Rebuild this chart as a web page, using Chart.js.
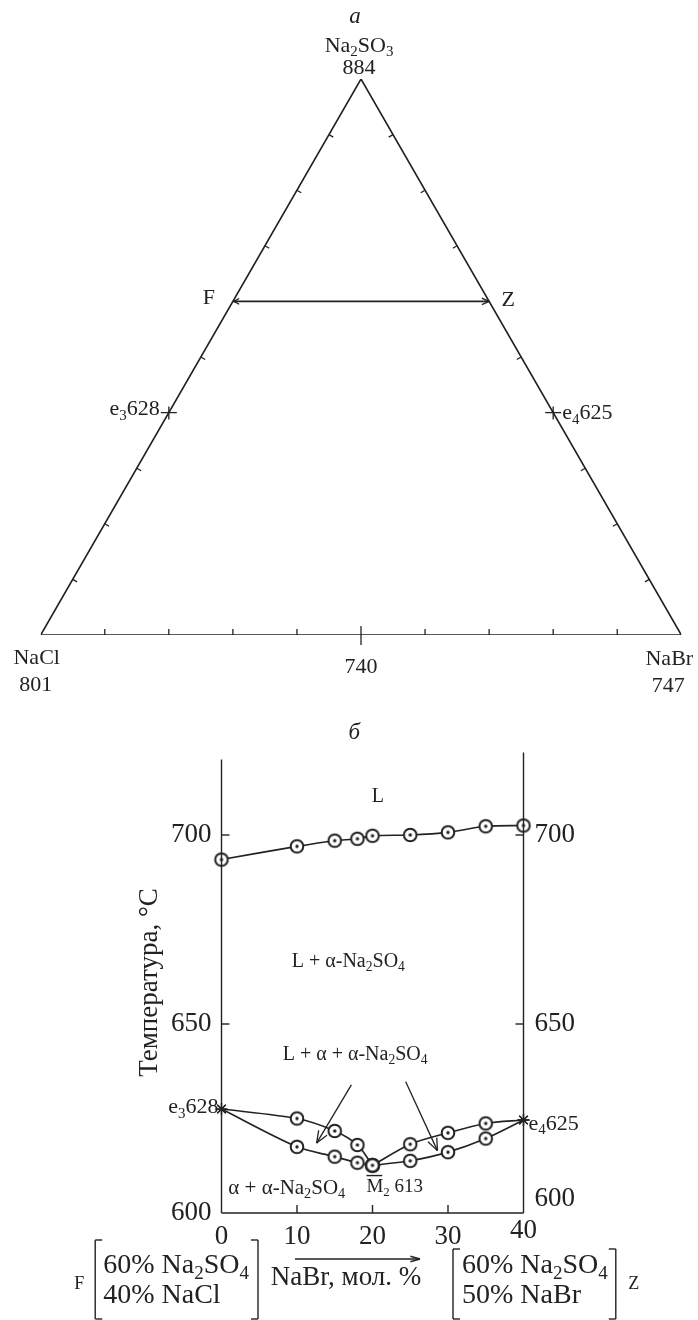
<!DOCTYPE html>
<html>
<head>
<meta charset="utf-8">
<script src="https://cdn.jsdelivr.net/npm/chart.js@4/dist/chart.umd.min.js"></script>
<style>
    html, body { margin: 0; padding: 0; background: #fff; }
    #wrap { position: relative; width: 698px; height: 1320px; }
    #triChart { position: absolute; left: 0; top: 0; }
    #txChart { position: absolute; left: 0; top: 700px; }
</style>
</head>
<body>
<div id="wrap">
    <canvas id="triChart" width="698" height="700"></canvas>
    <canvas id="txChart" width="698" height="620"></canvas>
</div>
<script>
// ---- (a) ternary system, compositions as [Na2SO4, NaCl, NaBr] ----
const CORNER_NAMES = ['Na_2SO_3', 'NaCl', 'NaBr'];
const CORNER_TEMPS = [884, 801, 747];
const SIDE_TICKS = [0.1, 0.2, 0.3, 0.4, 0.5, 0.6, 0.7, 0.8, 0.9];
const POINT_F = [0.6, 0.4, 0];
const POINT_Z = [0.6, 0, 0.4];
const POINT_E3 = [0.4, 0.6, 0];
const POINT_E4 = [0.4, 0, 0.6];
const POINT_MIN = [0, 0.5, 0.5];
const E3_TEMP = 628;
const E4_TEMP = 625;
const MIN_TEMP = 740;

// ---- (б) section F-Z ----
const LIQ_X = [0, 10, 15, 18, 20, 25, 30, 35, 40];
const LIQ_T = [693.5, 697, 698.5, 699, 699.8, 700, 700.7, 702.3, 702.5];
const LEFT_X = [0, 10, 15, 18, 20];
const LEFT_UPPER_T = [627.5, 625, 621.7, 618, 612.6];
const LEFT_LOWER_T = [627.5, 617.5, 614.9, 613.3, 612.6];
const RIGHT_X = [20, 25, 30, 35, 40];
const RIGHT_UPPER_T = [612.6, 618.2, 621.2, 623.7, 624.6];
const RIGHT_LOWER_T = [612.6, 613.8, 616.1, 619.7, 624.6];
const X_TICKS = [0, 10, 20, 30, 40];
const T_TICKS = [600, 650, 700];
const M2_TEMP = 613;

const INK = '#222';
const FONT = '"Liberation Serif", "DejaVu Serif", serif';
const H = Math.sqrt(3) / 2;

function tern(c) {
    return { x: c[2] + c[0] * 0.5, y: c[0] * H };
}

// text with "_2" style subscripts
function richText(ctx, str, x, y, size, align, italic) {
    const parts = str.split(/_(\d)/);
    const sub = size * 0.68;
    const style = italic ? 'italic ' : '';
    let w = 0;
    parts.forEach((p, i) => {
        ctx.font = style + (i % 2 ? sub : size) + 'px ' + FONT;
        w += ctx.measureText(p).width;
    });
    let cx = align === 'center' ? x - w / 2 : (align === 'right' ? x - w : x);
    ctx.textAlign = 'left';
    ctx.textBaseline = 'middle';
    ctx.fillStyle = INK;
    parts.forEach((p, i) => {
        ctx.font = style + (i % 2 ? sub : size) + 'px ' + FONT;
        ctx.fillText(p, cx, i % 2 ? y + size * 0.28 : y);
        cx += ctx.measureText(p).width;
    });
    return w;
}

function seg(ctx, x1, y1, x2, y2) {
    ctx.beginPath();
    ctx.moveTo(x1, y1);
    ctx.lineTo(x2, y2);
    ctx.stroke();
}

function arrowHead(ctx, x1, y1, x2, y2, len, spread) {
    const a = Math.atan2(y2 - y1, x2 - x1);
    seg(ctx, x2, y2, x2 - len * Math.cos(a - spread), y2 - len * Math.sin(a - spread));
    seg(ctx, x2, y2, x2 - len * Math.cos(a + spread), y2 - len * Math.sin(a + spread));
}

function bracket(ctx, x, top, bottom, dir) {
    seg(ctx, x + dir * 7, top, x, top);
    seg(ctx, x, top, x, bottom);
    seg(ctx, x, bottom, x + dir * 7, bottom);
}

// ---- chart (a) ----
const triPlugin = {
    id: 'triDecor',
    afterDatasetsDraw(chart) {
        const ctx = chart.ctx;
        const xs = chart.scales.x, ys = chart.scales.y;
        const px = c => {
            const p = tern(c);
            return [xs.getPixelForValue(p.x), ys.getPixelForValue(p.y)];
        };
        ctx.save();
        ctx.strokeStyle = INK;
        ctx.lineWidth = 1.3;

        SIDE_TICKS.forEach(f => {
            // base (NaCl - NaBr), ticks point up
            if (f !== 0.5) {
                const [bx, by] = px([0, 1 - f, f]);
                seg(ctx, bx, by, bx, by - 6);
            }
            if (Math.abs(f - POINT_F[0]) < 1e-6 || Math.abs(f - POINT_E3[0]) < 1e-6) return;
            const [lx, ly] = px([f, 1 - f, 0]);
            seg(ctx, lx, ly, lx + 5 * 0.866, ly + 5 * 0.5);
            const [rx, ry] = px([f, 0, 1 - f]);
            seg(ctx, rx, ry, rx - 5 * 0.866, ry + 5 * 0.5);
        });

        // binary points
        const [mx, my] = px(POINT_MIN);
        seg(ctx, mx, my - 9, mx, my + 10);
        [POINT_E3, POINT_E4].forEach(c => {
            const [ex, ey] = px(c);
            seg(ctx, ex - 8, ey, ex + 8, ey);
            seg(ctx, ex, ey - 6, ex, ey + 7);
        });

        // F-Z arrow heads
        const [fx, fy] = px(POINT_F);
        const [zx, zy] = px(POINT_Z);
        arrowHead(ctx, fx, fy, zx, zy, 8, 0.42);
        arrowHead(ctx, zx, zy, fx + 1, fy, 6, 0.5);

        // labels
        const [ax, ay] = px([1, 0, 0]);
        richText(ctx, 'a', ax - 6, ay - 62, 23, 'center', true);
        richText(ctx, CORNER_NAMES[0], ax - 2, ay - 33, 22, 'center');
        richText(ctx, String(CORNER_TEMPS[0]), ax - 2, ay - 11, 22, 'center');
        const [cx, cy] = px([0, 1, 0]);
        richText(ctx, CORNER_NAMES[1], cx - 4, cy + 23, 22, 'center');
        richText(ctx, String(CORNER_TEMPS[1]), cx - 5, cy + 50, 22, 'center');
        const [nx, ny] = px([0, 0, 1]);
        richText(ctx, CORNER_NAMES[2], nx - 12, ny + 24, 22, 'center');
        richText(ctx, String(CORNER_TEMPS[2]), nx - 13, ny + 51, 22, 'center');
        richText(ctx, String(MIN_TEMP), mx, my + 32, 22, 'center');
        richText(ctx, 'F', fx - 24, fy - 3, 22, 'center');
        richText(ctx, 'Z', zx + 19, zy - 1, 22, 'center');
        const [e3x, e3y] = px(POINT_E3);
        richText(ctx, 'e_3' + E3_TEMP, e3x - 9, e3y - 3, 22, 'right');
        const [e4x, e4y] = px(POINT_E4);
        richText(ctx, 'e_4' + E4_TEMP, e4x + 9, e4y + 1, 22, 'left');
        ctx.restore();
    }
};

const corners = [[0, 1, 0], [0, 0, 1], [1, 0, 0], [0, 1, 0]].map(tern);

new Chart(document.getElementById('triChart'), {
    type: 'scatter',
    data: {
        datasets: [
            {
                data: corners,
                showLine: true,
                borderColor: INK,
                borderWidth: 1.6,
                pointRadius: 0,
                tension: 0
            },
            {
                data: [tern(POINT_F), tern(POINT_Z)],
                showLine: true,
                borderColor: INK,
                borderWidth: 1.6,
                pointRadius: 0
            }
        ]
    },
    options: {
        responsive: false,
        animation: false,
        events: [],
        layout: { padding: { left: 40.7, right: 16.7, top: 79, bottom: 65 } },
        plugins: { legend: { display: false }, tooltip: { enabled: false } },
        scales: {
            x: { type: 'linear', min: 0, max: 1, display: false },
            y: { type: 'linear', min: 0, max: H, display: false }
        }
    },
    plugins: [triPlugin]
});

// ---- chart (б) ----
function ringMarker() {
    const c = document.createElement('canvas');
    c.width = 18;
    c.height = 18;
    const g = c.getContext('2d');
    g.beginPath();
    g.arc(9, 9, 6.3, 0, 2 * Math.PI);
    g.fillStyle = '#fff';
    g.fill();
    g.lineWidth = 2;
    g.strokeStyle = INK;
    g.stroke();
    g.beginPath();
    g.arc(9, 9, 1.7, 0, 2 * Math.PI);
    g.fillStyle = INK;
    g.fill();
    return c;
}
const RING = ringMarker();

function series(xArr, tArr, styles) {
    return {
        data: xArr.map((x, i) => ({ x: x, y: tArr[i] })),
        showLine: true,
        borderColor: INK,
        borderWidth: 1.6,
        tension: 0.3,
        clip: false,
        pointStyle: styles,
        pointRadius: 6,
        pointBorderColor: INK,
        pointBackgroundColor: INK,
        pointBorderWidth: 1.3
    };
}

const txPlugin = {
    id: 'txDecor',
    afterDraw(chart) {
        const ctx = chart.ctx;
        const xs = chart.scales.x, ys = chart.scales.y;
        const X = v => xs.getPixelForValue(v);
        const Y = v => ys.getPixelForValue(v);
        const x0 = X(X_TICKS[0]), x1 = X(X_TICKS[X_TICKS.length - 1]);
        const yb = Y(T_TICKS[0]);
        ctx.save();
        ctx.strokeStyle = INK;
        ctx.lineWidth = 1.4;
        seg(ctx, x0, yb, x0, chart.chartArea.top);
        seg(ctx, x1, yb, x1, chart.chartArea.top - 7);
        seg(ctx, x0, yb, x1, yb);

        T_TICKS.forEach((t, i) => {
            const y = Y(t);
            if (i > 0) {
                seg(ctx, x0, y, x0 + 8, y);
                seg(ctx, x1, y, x1 - 8, y);
            }
            richText(ctx, String(t), x0 - 10, y, 27, 'right');
            richText(ctx, String(t), x1 + 11, i === 0 ? y - 14 : y, 27, 'left');
        });
        X_TICKS.forEach((v, i) => {
            const x = X(v);
            if (i > 0 && i < X_TICKS.length - 1) seg(ctx, x, yb, x, yb - 8);
            richText(ctx, String(v), x, i === X_TICKS.length - 1 ? yb + 18 : yb + 24, 27, 'center');
        });

        // axis title
        ctx.save();
        ctx.translate(x0 - 72, Y(661));
        ctx.rotate(-Math.PI / 2);
        richText(ctx, 'Температура, °С', 0, 0, 27, 'center');
        ctx.restore();

        // phase fields
        richText(ctx, 'L', X(20.7), Y(710), 20, 'center');
        richText(ctx, 'L + α-Na_2SO_4', X(16.8), Y(666.5), 20, 'center');
        richText(ctx, 'L + α + α-Na_2SO_4', X(17.7), Y(641.8), 20, 'center');
        richText(ctx, 'α + α-Na_2SO_4', X(0.9), Y(606.6), 21, 'left');
        richText(ctx, 'M_2 ' + M2_TEMP, X(19.2), Y(606.8), 19, 'left');
        seg(ctx, X(19.2), Y(609.9), X(21.3), Y(609.9));
        richText(ctx, 'e_3' + E3_TEMP, x0 - 3, Y(627.9), 22, 'right');
        richText(ctx, 'e_4' + E4_TEMP, x1 + 5, Y(623.6), 22, 'left');

        // arrows to the three-phase fields
        ctx.lineWidth = 1.3;
        const arrows = [[17.2, 633.9, 12.6, 618.5], [24.4, 634.7, 28.6, 616.5]];
        arrows.forEach(a => {
            seg(ctx, X(a[0]), Y(a[1]), X(a[2]), Y(a[3]));
            arrowHead(ctx, X(a[0]), Y(a[1]), X(a[2]), Y(a[3]), 13, 0.38);
        });

        // composition line under the axis
        const r1 = yb + 53, r2 = yb + 83;
        ctx.lineWidth = 1.4;
        const leftW = richText(ctx, '60% Na_2SO_4', 249, r1, 28, 'right');
        const leftX = 249 - leftW;
        richText(ctx, '40% NaCl', leftX, r2, 28, 'left');
        bracket(ctx, leftX - 8, yb + 27, yb + 106, 1);
        bracket(ctx, 258, yb + 27, yb + 106, -1);
        richText(ctx, 'F', leftX - 24, r2 - 12, 18, 'center');

        seg(ctx, 295, yb + 46, 420, yb + 46);
        arrowHead(ctx, 295, yb + 46, 420, yb + 46, 10, 0.28);
        richText(ctx, 'NaBr, мол. %', 346, yb + 65, 27, 'center');

        const rightW = richText(ctx, '60% Na_2SO_4', 462, r1, 28, 'left');
        richText(ctx, '50% NaBr', 462, r2, 28, 'left');
        bracket(ctx, 453, yb + 36, yb + 106, 1);
        bracket(ctx, 462 + rightW + 8, yb + 36, yb + 106, -1);
        richText(ctx, 'Z', 462 + rightW + 26, r2 - 12, 18, 'center');

        // panel letter
        richText(ctx, 'б', X(17.6), chart.chartArea.top - 26, 23, 'center', true);
        ctx.restore();
    }
};

new Chart(document.getElementById('txChart'), {
    type: 'scatter',
    data: {
        datasets: [
            series(LIQ_X, LIQ_T, LIQ_X.map(() => RING)),
            series(LEFT_X, LEFT_UPPER_T, LEFT_X.map((v, i) => i === 0 ? 'star' : RING)),
            series(LEFT_X, LEFT_LOWER_T, LEFT_X.map((v, i) => i === 0 ? 'star' : RING)),
            series(RIGHT_X, RIGHT_UPPER_T, RIGHT_X.map((v, i) => i === RIGHT_X.length - 1 ? 'star' : RING)),
            series(RIGHT_X, RIGHT_LOWER_T, RIGHT_X.map((v, i) => i === RIGHT_X.length - 1 ? 'star' : RING))
        ]
    },
    options: {
        responsive: false,
        animation: false,
        events: [],
        layout: { padding: { left: 221.5, right: 174.5, top: 59.4, bottom: 107 } },
        plugins: { legend: { display: false }, tooltip: { enabled: false } },
        scales: {
            x: { type: 'linear', min: 0, max: 40, display: false },
            y: { type: 'linear', min: 600, max: 720, display: false }
        }
    },
    plugins: [txPlugin]
});
</script>
</body>
</html>
